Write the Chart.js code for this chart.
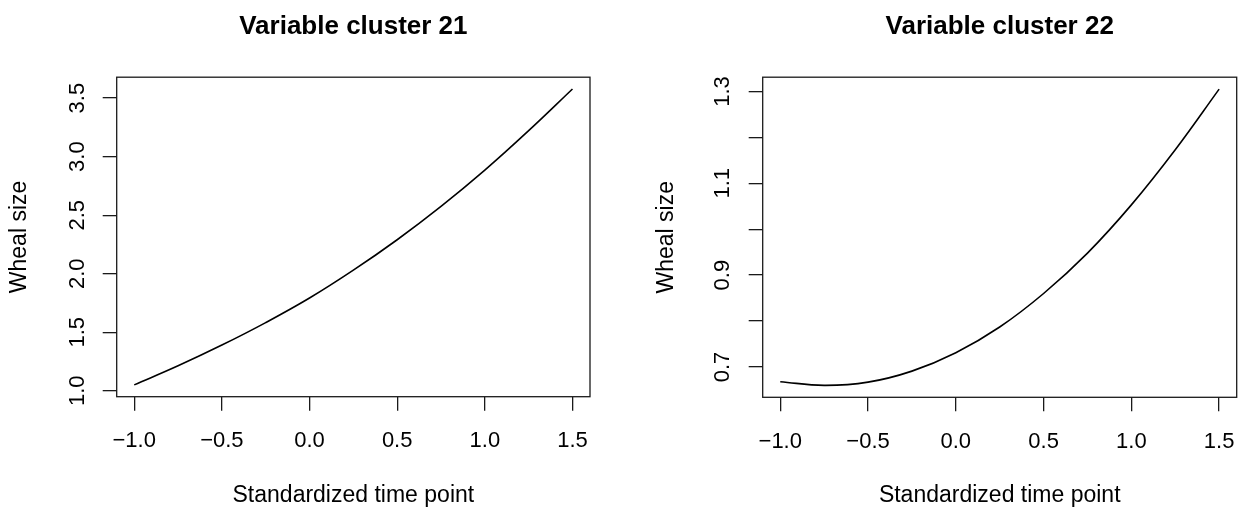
<!DOCTYPE html>
<html>
<head>
<meta charset="utf-8">
<script src="https://cdn.jsdelivr.net/npm/chart.js@4.4.1/dist/chart.umd.min.js"></script>
<style>
  html, body { margin: 0; padding: 0; background: #fff; }
  .panel { position: absolute; top: 0; width: 626px; height: 514px; }
  #panel-21 { left: 0; }
  #panel-22 { left: 626px; }
</style>
</head>
<body>
<div class="panel" id="panel-21"><canvas id="chart-21" width="626" height="514"></canvas></div>
<div class="panel" id="panel-22"><canvas id="chart-22" width="626" height="514"></canvas></div>
<script>
// values
const timePoints = [-1.0, -0.75, -0.5, -0.25, 0.0, 0.25, 0.5, 0.75, 1.0, 1.25, 1.5];
const cluster21 = [1.05, 1.213, 1.39, 1.582, 1.792, 2.03, 2.29, 2.575, 2.885, 3.222, 3.578];
const cluster22 = [0.668, 0.660, 0.667, 0.691, 0.731, 0.787, 0.860, 0.948, 1.053, 1.173, 1.305];

// tick values
const xTicks = [-1.0, -0.5, 0.0, 0.5, 1.0, 1.5];
const yTicks21 = [1.0, 1.5, 2.0, 2.5, 3.0, 3.5];
const yLabels21 = [1.0, 1.5, 2.0, 2.5, 3.0, 3.5];
const yTicks22 = [0.7, 0.8, 0.9, 1.0, 1.1, 1.2, 1.3];
const yLabels22 = [0.7, 0.9, 1.1, 1.3];

const xTitle = 'Standardized time point';
const yTitle = 'Wheal size';

Chart.defaults.font.family = '"Liberation Sans", Arial, Helvetica, sans-serif';
Chart.defaults.color = '#000';

// R style minus sign and one decimal
function fmt(v) {
    return (v < 0 ? '\u2212' : '') + Math.abs(v).toFixed(1);
}

// box round the plot region, like R's box()
const plotBox = {
    id: 'plotBox',
    afterDraw(chart) {
        const ctx = chart.ctx;
        const a = chart.chartArea;
        ctx.save();
        ctx.strokeStyle = '#1a1a1a';
        ctx.lineWidth = 1.3;
        ctx.strokeRect(a.left, a.top, a.right - a.left, a.bottom - a.top);
        ctx.restore();
    }
};

function makeChart(canvasId, title, values, yMin, yMax, yTicks, yLabels, box) {
    const ctx = document.getElementById(canvasId).getContext('2d');
    return new Chart(ctx, {
        type: 'line',
        data: {
            datasets: [{
                data: timePoints.map((t, i) => ({ x: t, y: values[i] })),
                borderColor: '#000',
                borderWidth: 1.6,
                pointRadius: 0,
                fill: false,
                tension: 0.4
            }]
        },
        options: {
            responsive: false,
            animation: false,
            devicePixelRatio: 1,
            layout: { padding: { left: 0, top: 0, bottom: 0, right: box.padRight } },
            plugins: {
                legend: { display: false },
                tooltip: { enabled: false },
                title: {
                    display: true,
                    text: title,
                    fullSize: false,
                    color: '#000',
                    font: { size: 26, weight: 'bold' },
                    padding: { top: 11, bottom: 35 }
                }
            },
            scales: {
                x: {
                    type: 'linear',
                    min: -1.1,
                    max: 1.6,
                    afterBuildTicks: s => { s.ticks = xTicks.map(v => ({ value: v })); },
                    afterFit: s => {
                        s.height = box.xAxisHeight;
                        s.paddingLeft = 0;
                        s.paddingRight = 0;
                    },
                    border: { display: false },
                    grid: {
                        drawOnChartArea: false,
                        drawTicks: true,
                        tickLength: 14,
                        color: '#1a1a1a',
                        lineWidth: 1.3
                    },
                    ticks: {
                        autoSkip: false,
                        maxRotation: 0,
                        padding: 17,
                        font: { size: 22 },
                        callback: v => fmt(v)
                    },
                    title: {
                        display: true,
                        text: xTitle,
                        font: { size: 23 },
                        padding: { top: 0, bottom: 5 }
                    }
                },
                y: {
                    type: 'linear',
                    min: yMin,
                    max: yMax,
                    afterBuildTicks: s => { s.ticks = yTicks.map(v => ({ value: v })); },
                    afterFit: s => {
                        s.width = box.yAxisWidth;
                        s.paddingTop = 0;
                        s.paddingBottom = 0;
                    },
                    border: { display: false },
                    grid: {
                        drawOnChartArea: false,
                        drawTicks: true,
                        tickLength: 14,
                        color: '#1a1a1a',
                        lineWidth: 1.3
                    },
                    ticks: {
                        autoSkip: false,
                        minRotation: 90,
                        maxRotation: 90,
                        crossAlign: 'center',
                        padding: box.yTickPad,
                        font: { size: 22 },
                        callback: v => yLabels.includes(v) ? fmt(v) : ''
                    },
                    title: {
                        display: true,
                        text: yTitle,
                        font: { size: 23 },
                        padding: { top: box.yTitlePad, bottom: 0 }
                    }
                }
            }
        },
        plugins: [plotBox]
    });
}

let chart21 = makeChart('chart-21', 'Variable cluster 21', cluster21, 0.949, 3.679, yTicks21, yLabels21,
    { padRight: 36, xAxisHeight: 117.3, yAxisWidth: 116.7, yTickPad: 9, yTitlePad: 6.2 });

let chart22 = makeChart('chart-22', 'Variable cluster 22', cluster22, 0.634, 1.331, yTicks22, yLabels22,
    { padRight: 15.3, xAxisHeight: 116.7, yAxisWidth: 136.7, yTickPad: 10.7, yTitlePad: 26.9 });
</script>
</body>
</html>
